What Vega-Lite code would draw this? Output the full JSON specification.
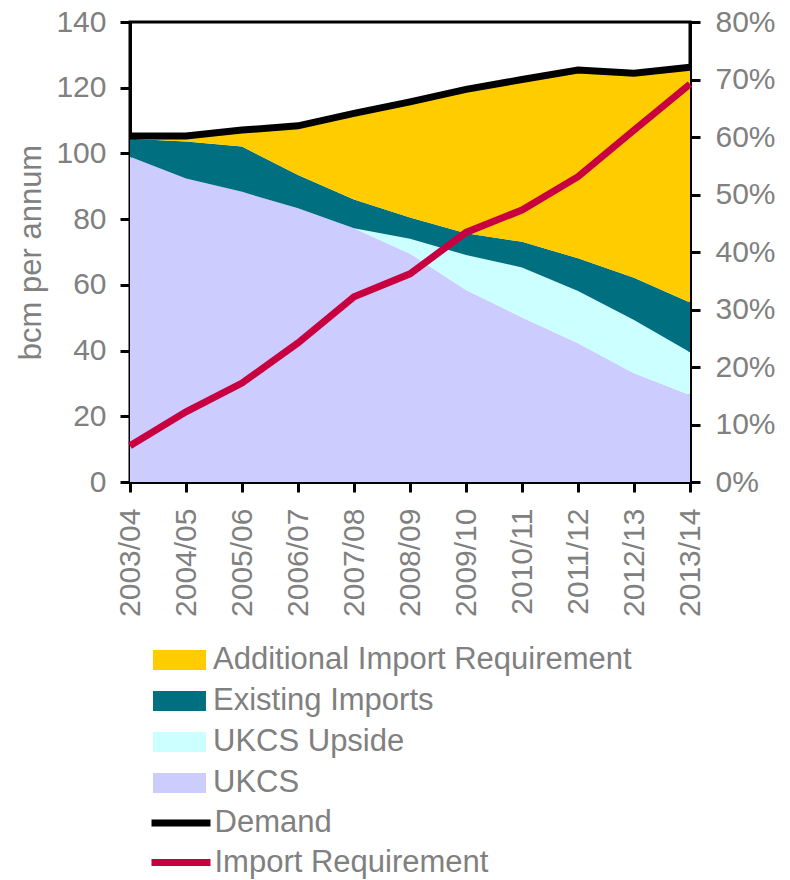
{
  "$schema": "https://vega.github.io/schema/vega-lite/v6.json",
  "width": 560,
  "height": 460,
  "autosize": {"type": "none"},
  "padding": {"left": 130, "top": 22, "right": 100, "bottom": 398},
  "background": "white",
  "config": {
    "font": "Liberation Sans",
    "view": {"stroke": "black", "strokeWidth": 3},
    "axis": {
      "domainColor": "black", "domainWidth": 3,
      "tickColor": "black", "tickWidth": 3, "tickSize": 10,
      "labelColor": "#808080", "labelFontSize": 30, "labelFont": "Liberation Sans",
      "titleColor": "#808080", "titleFontSize": 31, "titleFont": "Liberation Sans", "titleFontWeight": "normal",
      "grid": false
    },
    "legend": {
      "labelColor": "#808080", "labelFontSize": 31, "labelFont": "Liberation Sans",
      "labelLimit": 700
    }
  },
  "datasets": {
    "areas": [
      {"year": "2003/04", "series": "UKCS", "stackOrder": 1, "value": 99.0},
      {"year": "2004/05", "series": "UKCS", "stackOrder": 1, "value": 92.4},
      {"year": "2005/06", "series": "UKCS", "stackOrder": 1, "value": 88.3},
      {"year": "2006/07", "series": "UKCS", "stackOrder": 1, "value": 83.3},
      {"year": "2007/08", "series": "UKCS", "stackOrder": 1, "value": 77.2},
      {"year": "2008/09", "series": "UKCS", "stackOrder": 1, "value": 69.5},
      {"year": "2009/10", "series": "UKCS", "stackOrder": 1, "value": 58.4},
      {"year": "2010/11", "series": "UKCS", "stackOrder": 1, "value": 50.1},
      {"year": "2011/12", "series": "UKCS", "stackOrder": 1, "value": 42.2},
      {"year": "2012/13", "series": "UKCS", "stackOrder": 1, "value": 33.1},
      {"year": "2013/14", "series": "UKCS", "stackOrder": 1, "value": 26.5},
      {"year": "2003/04", "series": "UKCS Upside", "stackOrder": 2, "value": 0},
      {"year": "2004/05", "series": "UKCS Upside", "stackOrder": 2, "value": 0},
      {"year": "2005/06", "series": "UKCS Upside", "stackOrder": 2, "value": 0},
      {"year": "2006/07", "series": "UKCS Upside", "stackOrder": 2, "value": 0},
      {"year": "2007/08", "series": "UKCS Upside", "stackOrder": 2, "value": 0},
      {"year": "2008/09", "series": "UKCS Upside", "stackOrder": 2, "value": 4.5},
      {"year": "2009/10", "series": "UKCS Upside", "stackOrder": 2, "value": 10.7},
      {"year": "2010/11", "series": "UKCS Upside", "stackOrder": 2, "value": 15.2},
      {"year": "2011/12", "series": "UKCS Upside", "stackOrder": 2, "value": 15.9},
      {"year": "2012/13", "series": "UKCS Upside", "stackOrder": 2, "value": 16.2},
      {"year": "2013/14", "series": "UKCS Upside", "stackOrder": 2, "value": 13.0},
      {"year": "2003/04", "series": "Existing Imports", "stackOrder": 3, "value": 5.5},
      {"year": "2004/05", "series": "Existing Imports", "stackOrder": 3, "value": 11.2},
      {"year": "2005/06", "series": "Existing Imports", "stackOrder": 3, "value": 13.8},
      {"year": "2006/07", "series": "Existing Imports", "stackOrder": 3, "value": 10.1},
      {"year": "2007/08", "series": "Existing Imports", "stackOrder": 3, "value": 8.8},
      {"year": "2008/09", "series": "Existing Imports", "stackOrder": 3, "value": 6.5},
      {"year": "2009/10", "series": "Existing Imports", "stackOrder": 3, "value": 6.6},
      {"year": "2010/11", "series": "Existing Imports", "stackOrder": 3, "value": 7.8},
      {"year": "2011/12", "series": "Existing Imports", "stackOrder": 3, "value": 10.0},
      {"year": "2012/13", "series": "Existing Imports", "stackOrder": 3, "value": 12.9},
      {"year": "2013/14", "series": "Existing Imports", "stackOrder": 3, "value": 15.1},
      {"year": "2003/04", "series": "Additional Import Requirement", "stackOrder": 4, "value": 0.8},
      {"year": "2004/05", "series": "Additional Import Requirement", "stackOrder": 4, "value": 1.7},
      {"year": "2005/06", "series": "Additional Import Requirement", "stackOrder": 4, "value": 5.0},
      {"year": "2006/07", "series": "Additional Import Requirement", "stackOrder": 4, "value": 15.0},
      {"year": "2007/08", "series": "Additional Import Requirement", "stackOrder": 4, "value": 26.2},
      {"year": "2008/09", "series": "Additional Import Requirement", "stackOrder": 4, "value": 35.2},
      {"year": "2009/10", "series": "Additional Import Requirement", "stackOrder": 4, "value": 43.8},
      {"year": "2010/11", "series": "Additional Import Requirement", "stackOrder": 4, "value": 49.4},
      {"year": "2011/12", "series": "Additional Import Requirement", "stackOrder": 4, "value": 57.3},
      {"year": "2012/13", "series": "Additional Import Requirement", "stackOrder": 4, "value": 62.2},
      {"year": "2013/14", "series": "Additional Import Requirement", "stackOrder": 4, "value": 71.6}
    ],
    "demand": [
      {"year": "2003/04", "series": "Demand", "value": 105.3},
      {"year": "2004/05", "series": "Demand", "value": 105.3},
      {"year": "2005/06", "series": "Demand", "value": 107.1},
      {"year": "2006/07", "series": "Demand", "value": 108.4},
      {"year": "2007/08", "series": "Demand", "value": 112.2},
      {"year": "2008/09", "series": "Demand", "value": 115.7},
      {"year": "2009/10", "series": "Demand", "value": 119.5},
      {"year": "2010/11", "series": "Demand", "value": 122.5},
      {"year": "2011/12", "series": "Demand", "value": 125.4},
      {"year": "2012/13", "series": "Demand", "value": 124.4},
      {"year": "2013/14", "series": "Demand", "value": 126.2}
    ],
    "importreq": [
      {"year": "2003/04", "series": "Import Requirement", "pct": 0.063},
      {"year": "2004/05", "series": "Import Requirement", "pct": 0.122},
      {"year": "2005/06", "series": "Import Requirement", "pct": 0.172},
      {"year": "2006/07", "series": "Import Requirement", "pct": 0.242},
      {"year": "2007/08", "series": "Import Requirement", "pct": 0.322},
      {"year": "2008/09", "series": "Import Requirement", "pct": 0.362},
      {"year": "2009/10", "series": "Import Requirement", "pct": 0.434},
      {"year": "2010/11", "series": "Import Requirement", "pct": 0.473},
      {"year": "2011/12", "series": "Import Requirement", "pct": 0.531},
      {"year": "2012/13", "series": "Import Requirement", "pct": 0.612},
      {"year": "2013/14", "series": "Import Requirement", "pct": 0.692}
    ]
  },
  "layer": [
    {
      "layer": [
        {
          "data": {"name": "areas"},
          "mark": {"type": "area"},
          "encoding": {
            "x": {"field": "year", "type": "ordinal", "scale": {"type": "point", "padding": 0},
                  "axis": {"labelAngle": -90, "labelPadding": 16, "title": null}},
            "y": {"field": "value", "type": "quantitative", "stack": "zero", "scale": {"domain": [0, 140]},
                  "axis": {"values": [0, 20, 40, 60, 80, 100, 120, 140], "title": "bcm per annum", "labelPadding": 14, "titlePadding": 8}},
            "fill": {"field": "series", "type": "nominal",
                     "scale": {"domain": ["Additional Import Requirement", "Existing Imports", "UKCS Upside", "UKCS"],
                               "range": ["#FFCC00", "#007080", "#CCFFFF", "#CCCCFF"]},
                     "legend": {"orient": "none", "legendX": 34, "legendY": 622.5, "title": null, "rowPadding": 9,
                                "symbolType": "M-2,-0.754H2V0.754H-2Z", "symbolSize": 702, "symbolStrokeWidth": 0, "labelOffset": 18}},
            "order": {"field": "stackOrder", "type": "quantitative"}
          }
        },
        {
          "data": {"name": "demand"},
          "mark": {"type": "line", "strokeWidth": 7},
          "encoding": {
            "x": {"field": "year", "type": "ordinal", "scale": {"type": "point", "padding": 0}},
            "y": {"field": "value", "type": "quantitative"},
            "stroke": {"field": "series", "type": "nominal",
                       "scale": {"domain": ["Demand", "Import Requirement"], "range": ["#000000", "#C8003F"]},
                       "legend": {"orient": "none", "legendX": 32.5, "legendY": 782.5, "title": null, "rowPadding": 5.5,
                                  "symbolType": "M-2,0H2", "symbolSize": 870, "symbolStrokeWidth": 7, "labelOffset": 15}}
          }
        }
      ]
    },
    {
      "data": {"name": "importreq"},
      "mark": {"type": "line", "strokeWidth": 7},
      "encoding": {
        "x": {"field": "year", "type": "ordinal", "scale": {"type": "point", "padding": 0}},
        "y": {"field": "pct", "type": "quantitative", "scale": {"domain": [0, 0.8]},
              "axis": {"orient": "right", "format": "%", "values": [0, 0.1, 0.2, 0.3, 0.4, 0.5, 0.6, 0.7, 0.8], "title": null, "labelPadding": 15}},
        "stroke": {"field": "series", "type": "nominal",
                   "scale": {"domain": ["Demand", "Import Requirement"], "range": ["#000000", "#C8003F"]}}
      }
    }
  ],
  "resolve": {"scale": {"y": "independent"}}
}
